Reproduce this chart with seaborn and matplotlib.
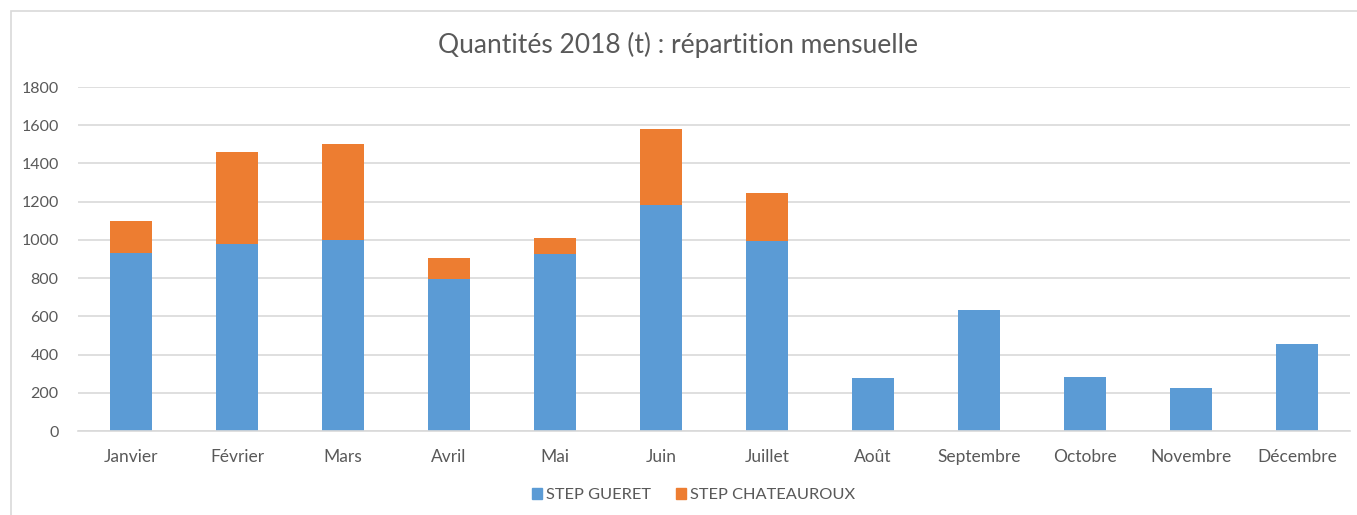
import pandas as pd
import seaborn as sns
import matplotlib.pyplot as plt
from matplotlib.patches import Rectangle, Patch

sns.set_theme(style="white")
plt.rcParams['font.family'] = ['Lato', 'DejaVu Sans']

# Monthly quantities 2018 (t)
months = ['Janvier', 'Février', 'Mars', 'Avril', 'Mai', 'Juin', 'Juillet',
          'Août', 'Septembre', 'Octobre', 'Novembre', 'Décembre']
gueret = [930, 980, 1000, 793, 927, 1183, 993, 275, 636, 282, 223, 454]
chateauroux = [170, 482, 500, 115, 83, 398, 254, 0, 0, 0, 0, 0]
y_ticks = [0, 200, 400, 600, 800, 1000, 1200, 1400, 1600, 1800]

df = pd.DataFrame({'mois': months, 'gueret': gueret, 'chateauroux': chateauroux})
df['total'] = df['gueret'] + df['chateauroux']

blue = '#5b9bd5'
orange = '#ed7d31'
text_grey = '#595959'
grid_grey = '#d9d9d9'

fig = plt.figure(figsize=(13.57, 5.15), dpi=100)
ax = fig.add_axes([0.0575, 0.163, 0.9373, 0.668])

# stacked: draw total in orange, then gueret in blue on top
sns.barplot(data=df, x='mois', y='total', color=orange, width=0.4, ax=ax,
            saturation=1, edgecolor='none')
sns.barplot(data=df, x='mois', y='gueret', color=blue, width=0.4, ax=ax,
            saturation=1, edgecolor='none')

ax.set_ylim(0, 1800)
ax.set_yticks(y_ticks)
ax.set_xlim(-0.5, len(months) - 0.5)
ax.set_xlabel('')
ax.set_ylabel('')
ax.yaxis.grid(True, color=grid_grey, linewidth=1.2)
ax.set_axisbelow(True)
for side in ['left', 'right', 'top']:
    ax.spines[side].set_visible(False)
ax.spines['bottom'].set_color(grid_grey)
ax.spines['bottom'].set_linewidth(1.2)
ax.tick_params(axis='y', length=0, labelsize=11.5, colors=text_grey, pad=14)
ax.tick_params(axis='x', length=0, labelsize=12.5, colors=text_grey, pad=13)

fig.text(0.5, 0.912, 'Quantités 2018 (t) : répartition mensuelle',
         ha='center', va='center', fontsize=19, color=text_grey)

handles = [Patch(color=blue, label='STEP GUERET'),
           Patch(color=orange, label='STEP CHATEAUROUX')]
fig.legend(handles=handles, loc='center', bbox_to_anchor=(0.511, 0.038), ncol=2,
           frameon=False, fontsize=11.8, handlelength=0.6, handleheight=0.6,
           handletextpad=0.25, columnspacing=1.55, labelcolor=text_grey)

# chart frame
fig.patches.append(Rectangle((11 / 1357, -0.1), 1.2, 1 - 11 / 515 + 0.1,
                             transform=fig.transFigure, fill=False,
                             edgecolor=grid_grey, linewidth=1.2))

fig.savefig('out.png', dpi=100, facecolor='white')
